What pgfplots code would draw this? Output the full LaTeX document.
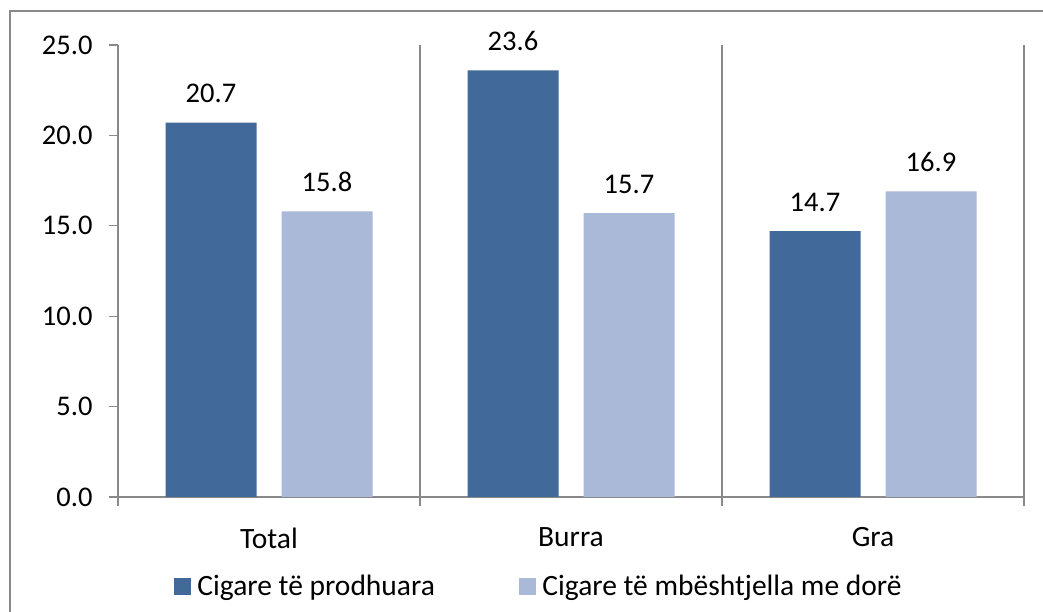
\documentclass[border=0pt]{standalone}
\usepackage{fontspec}
\setmainfont{Carlito}
\usepackage{pgfplots}
\pgfplotsset{compat=1.18}
\definecolor{darkbar}{HTML}{416A9B}
\definecolor{lightbar}{HTML}{AAB9D7}
\definecolor{axgray}{HTML}{898989}
\newcommand{\bigf}{\fontsize{28.5}{34}\selectfont}
\newcommand{\txtf}{\fontsize{29.5}{35}\selectfont}
\begin{document}
\begin{tikzpicture}[x=1pt,y=1pt]
\path[use as bounding box] (0,0) rectangle (1043,612);
\draw[axgray, line width=1.2pt] (10,0) -- (10,601) -- (1043,601);
\begin{axis}[
  at={(118pt,115pt)}, anchor=south west,
  width=906pt, height=452pt, scale only axis,
  xmin=-0.5, xmax=2.5, ymin=0, ymax=25,
  axis x line=bottom, axis y line=left,
  axis line style={-, axgray, line width=1.2pt},
  xtick={-0.5,0.5,1.5,2.5}, xticklabels={},
  xmajorgrids, grid style={axgray, line width=1.2pt},
  extra x ticks={0,1,2},
  extra x tick labels={Total,Burra,Gra},
  extra x tick style={grid=none, major tick length=0pt,
     xticklabel style={yshift=-27pt, font=\txtf}},
  ytick={0,5,...,25},
  tick align=outside, major tick length=9pt,
  tick style={axgray, line width=1.2pt},
  tick label style={font=\bigf, text=black},
  yticklabel style={xshift=-13pt, /pgf/number format/fixed, /pgf/number format/fixed zerofill, /pgf/number format/precision=1, /pgf/number format/assume math mode=true},
  nodes near coords,
  nodes near coords style={font=\bigf, text=black, anchor=south, yshift=16pt,
     /pgf/number format/fixed, /pgf/number format/fixed zerofill, /pgf/number format/precision=1, /pgf/number format/assume math mode=true},
  legend columns=2,
  legend style={draw=none, fill=none, font=\txtf, inner sep=0pt, outer sep=0pt,
     at={(axis description cs:0.0618,-0.197)}, anchor=west,
     /tikz/every odd column/.append style={column sep=4pt},
     /tikz/every even column/.append style={column sep=82pt}},
  legend image code/.code={\fill[#1] (0pt,-8.5pt) rectangle (17.5pt,8.5pt);},
]
\addplot[ybar, bar width=91pt, bar shift=-58pt, fill=darkbar, draw=none,
  nodes near coords style={xshift=-58pt}]
  coordinates {(0,20.7) (1,23.6) (2,14.7)};
\addplot[ybar, bar width=91pt, bar shift=58pt, fill=lightbar, draw=none,
  nodes near coords style={xshift=58pt}]
  coordinates {(0,15.8) (1,15.7) (2,16.9)};
\legend{Cigare të prodhuara, Cigare të mbështjella me dorë}
\end{axis}
\end{tikzpicture}
\end{document}
